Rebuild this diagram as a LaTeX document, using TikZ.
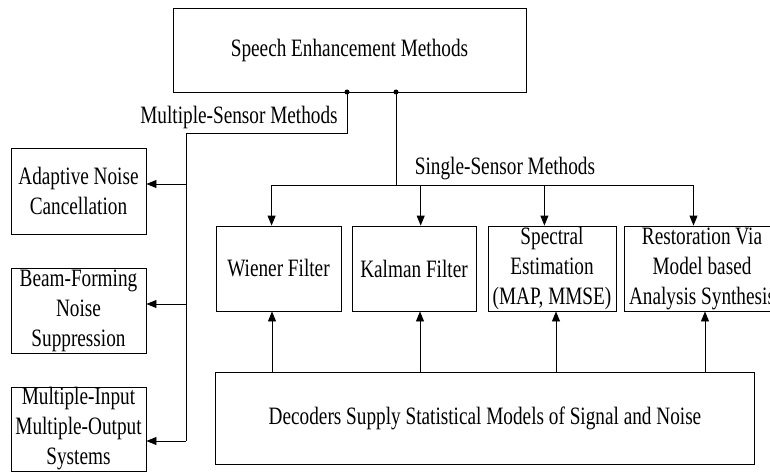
\documentclass[tikz,border=0pt]{standalone}
\usepackage{fontspec}
\setmainfont[FakeStretch=0.77]{Liberation Serif}
\usetikzlibrary{arrows.meta,calc}
\begin{document}
\begin{tikzpicture}[x=1pt,y=-1pt,
 box/.style={draw, line width=0.9pt, inner sep=0pt, align=center, font=\fontsize{25}{30}\selectfont},
 lbl/.style={inner sep=0pt, font=\fontsize{25}{30}\selectfont},
 conn/.style={line width=0.9pt},
 arr/.style={conn,-{Triangle[length=10pt,width=8pt]}},
 dot/.style={circle, fill, inner sep=0pt, minimum size=5pt}]
\useasboundingbox (0,0) rectangle (770,473);
\clip (0,0) rectangle (770,473);
% boxes
\node[box, minimum width=353pt, minimum height=84pt] (top) at (349.5,50) {Speech Enhancement Methods};
\node[box, minimum width=135pt, minimum height=86pt] (ad) at (78.5,191) {Adaptive Noise\\Cancellation};
\node[box, minimum width=135pt, minimum height=85pt] (bf) at (78.5,310.5) {Beam-Forming\\Noise\\Suppression};
\node[box, minimum width=135pt, minimum height=84pt] (mi) at (78.5,429) {Multiple-Input\\Multiple-Output\\Systems};
\node[box, minimum width=125pt, minimum height=85pt] (wf) at (278.5,268.5) {Wiener Filter};
\node[box, minimum width=124pt, minimum height=85pt] (kf) at (414,268.5) {Kalman Filter};
\node[box, minimum width=128pt, minimum height=85pt] (se) at (552,268.5) {Spectral\\Estimation\\(MAP, MMSE)};
\node[box, minimum width=156pt, minimum height=85pt] (rv) at (702,268.5) {Restoration Via\\Model based\\Analysis Synthesis};
\node[box, minimum width=538.5pt, minimum height=92pt] (dec) at (485,418) {Decoders Supply Statistical Models of Signal and Noise};
% labels
\node[lbl, anchor=base] (ml) at (239,124) {Multiple-Sensor Methods};
\node[lbl, anchor=base] (sl) at (505,175) {Single-Sensor Methods};
% dots
\node[dot] (d1) at (347,92) {};
\node[dot] (d2) at (396,92) {};
% multiple-sensor branch
\coordinate (m1) at (347,133);
\coordinate (m2) at (186,133);
\coordinate (ba) at (186,184);
\coordinate (bb) at (186,304);
\coordinate (bc) at (186,441);
\draw[conn] (d1.center) -- (m1) -- (m2) -- (bc);
\draw[arr] (ba) -- (ba -| ad.east);
\draw[arr] (bb) -- (bb -| bf.east);
\draw[arr] (bc) -- (bc -| mi.east);
% single-sensor branch
\coordinate (s0) at (396,185);
\coordinate (sa) at (271.6,185);
\coordinate (sb) at (420.7,185);
\coordinate (sc) at (544.4,185);
\coordinate (sd) at (693.5,185);
\draw[conn] (d2.center) -- (s0);
\draw[conn] (sa) -- (sd);
\draw[arr] (sa) -- (sa |- wf.north);
\draw[arr] (sb) -- (sb |- kf.north);
\draw[arr] (sc) -- (sc |- se.north);
\draw[arr] (sd) -- (sd |- rv.north);
% decoder arrows
\coordinate (xa) at (272,0);
\coordinate (xb) at (420,0);
\coordinate (xc) at (556,0);
\coordinate (xd) at (705,0);
\draw[arr] (dec.north -| xa) -- (wf.south -| xa);
\draw[arr] (dec.north -| xb) -- (kf.south -| xb);
\draw[arr] (dec.north -| xc) -- (se.south -| xc);
\draw[arr] (dec.north -| xd) -- (rv.south -| xd);
\end{tikzpicture}
\end{document}
